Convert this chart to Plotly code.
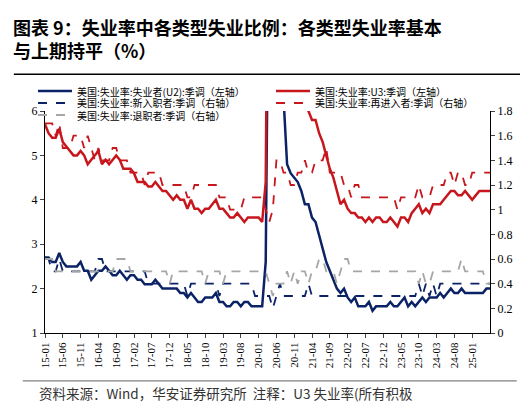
import plotly.graph_objects as go

# monthly, 2015-01 .. 2025-06
months = ["{:02d}-{:02d}".format(y, m) for y in range(15, 26) for m in range(1, 13)][:126]

u3 = [5.7, 5.5, 5.4, 5.4, 5.6, 5.3, 5.2, 5.1, 5.0, 5.0, 5.1, 5.0,
      4.8, 4.9, 5.0, 5.1, 4.8, 4.9, 4.8, 4.9, 5.0, 4.9, 4.7, 4.7,
      4.7, 4.6, 4.4, 4.4, 4.4, 4.3, 4.3, 4.4, 4.3, 4.2, 4.2, 4.1,
      4.0, 4.1, 4.0, 4.0, 3.8, 4.0, 3.8, 3.8, 3.7, 3.8, 3.8, 3.9,
      4.0, 3.8, 3.8, 3.7, 3.6, 3.6, 3.7, 3.6, 3.5, 3.6, 3.6, 3.6,
      3.6, 3.5, 4.4, 14.7, 13.2, 11.0, 10.2, 8.4, 7.9, 6.9, 6.7, 6.7,
      6.4, 6.2, 6.0, 5.8, 5.8, 5.5, 5.3, 5.0, 4.7, 4.5, 4.2, 3.9,
      4.0, 3.8, 3.7, 3.7, 3.6, 3.6, 3.5, 3.6, 3.5, 3.6, 3.6, 3.5,
      3.5, 3.6, 3.5, 3.4, 3.6, 3.6, 3.5, 3.7, 3.8, 3.9, 3.7, 3.8,
      3.7, 3.9, 3.9, 3.9, 4.0, 4.1, 4.2, 4.2, 4.1, 4.1, 4.2, 4.1,
      4.0, 4.1, 4.2, 4.2, 4.2, 4.2]
u2 = [2.7, 2.7, 2.6, 2.6, 2.8, 2.6, 2.5, 2.5, 2.5, 2.5, 2.6, 2.4,
      2.4, 2.2, 2.3, 2.4, 2.4, 2.5, 2.4, 2.3, 2.3, 2.4, 2.3, 2.2,
      2.3, 2.3, 2.2, 2.2, 2.1, 2.1, 2.1, 2.2, 2.1, 2.0, 2.0, 2.0,
      2.0, 2.0, 1.9, 1.9, 1.8, 1.9, 1.8, 1.7, 1.7, 1.8, 1.8, 1.8,
      1.9, 1.7, 1.7, 1.6, 1.6, 1.7, 1.7, 1.6, 1.7, 1.7, 1.6, 1.6,
      1.6, 1.6, 2.6, 11.5, 10.1, 8.6, 7.9, 6.3, 4.8, 4.6, 4.5, 4.4,
      4.2, 3.9, 3.9, 3.6, 3.5, 3.2, 2.9, 2.6, 2.4, 2.2, 2.0, 1.9,
      2.0, 1.8, 1.7, 1.8, 1.6, 1.6, 1.6, 1.7, 1.5, 1.6, 1.6, 1.6,
      1.6, 1.7, 1.6, 1.6, 1.7, 1.8, 1.6, 1.7, 1.6, 1.7, 1.8, 1.7,
      1.8, 1.8, 1.8, 1.9, 1.8, 1.9, 2.0, 1.9, 1.9, 2.0, 1.9, 1.9,
      1.9, 1.9, 1.9, 1.9, 2.0, 2.0]
new_entrants = [0.6, 0.6, 0.5, 0.5, 0.6, 0.5, 0.5, 0.5, 0.5, 0.5, 0.5, 0.5,
                0.5, 0.5, 0.5, 0.6, 0.6, 0.5, 0.5, 0.5, 0.5, 0.5, 0.5, 0.5,
                0.5, 0.5, 0.5, 0.5, 0.5, 0.4, 0.4, 0.4, 0.4, 0.4, 0.4, 0.4,
                0.4, 0.4, 0.4, 0.4, 0.3, 0.4, 0.4, 0.4, 0.4, 0.4, 0.4, 0.4,
                0.4, 0.3, 0.4, 0.4, 0.4, 0.4, 0.4, 0.4, 0.4, 0.4, 0.4, 0.3,
                0.3, 0.3, 0.3, 0.3, 0.2, 0.3, 0.4, 0.3, 0.3, 0.3, 0.3, 0.3,
                0.3, 0.3, 0.4, 0.3, 0.3, 0.3, 0.3, 0.3, 0.3, 0.3, 0.3, 0.3,
                0.3, 0.3, 0.3, 0.3, 0.3, 0.3, 0.3, 0.3, 0.3, 0.3, 0.3, 0.3,
                0.3, 0.3, 0.3, 0.3, 0.3, 0.3, 0.3, 0.3, 0.3, 0.4, 0.3, 0.4,
                0.3, 0.4, 0.3, 0.4, 0.4, 0.4, 0.4, 0.4, 0.4, 0.4, 0.4, 0.4,
                0.4, 0.4, 0.4, 0.4, 0.4, 0.4]
reentrants = [1.7, 1.7, 1.7, 1.6, 1.7, 1.5, 1.5, 1.5, 1.6, 1.6, 1.6, 1.5,
              1.6, 1.5, 1.4, 1.5, 1.4, 1.4, 1.4, 1.5, 1.5, 1.4, 1.4, 1.4,
              1.3, 1.3, 1.3, 1.3, 1.2, 1.3, 1.3, 1.3, 1.3, 1.2, 1.2, 1.2,
              1.2, 1.2, 1.2, 1.2, 1.1, 1.1, 1.2, 1.2, 1.2, 1.2, 1.2, 1.2,
              1.2, 1.1, 1.1, 1.1, 1.0, 1.0, 1.0, 1.0, 1.1, 1.1, 1.1, 1.1,
              1.1, 1.1, 1.0, 0.9, 1.0, 1.4, 1.4, 1.3, 1.3, 1.2, 1.2, 1.3,
              1.3, 1.4, 1.3, 1.3, 1.4, 1.4, 1.4, 1.5, 1.3, 1.3, 1.3, 1.3,
              1.2, 1.2, 1.1, 1.2, 1.2, 1.1, 1.1, 1.1, 1.1, 1.1, 1.1, 1.1,
              1.1, 1.1, 1.1, 1.0, 1.1, 1.1, 1.1, 1.1, 1.1, 1.2, 1.1, 1.1,
              1.1, 1.2, 1.2, 1.2, 1.2, 1.3, 1.3, 1.2, 1.3, 1.3, 1.2, 1.2,
              1.3, 1.3, 1.3, 1.3, 1.3, 1.3]
leavers = [0.6, 0.6, 0.6, 0.5, 0.5, 0.5, 0.5, 0.5, 0.5, 0.5, 0.5, 0.5,
           0.5, 0.5, 0.5, 0.5, 0.5, 0.5, 0.5, 0.5, 0.6, 0.6, 0.6, 0.6,
           0.5, 0.5, 0.5, 0.5, 0.5, 0.5, 0.5, 0.5, 0.5, 0.5, 0.5, 0.4,
           0.5, 0.5, 0.5, 0.5, 0.5, 0.5, 0.5, 0.5, 0.5, 0.4, 0.5, 0.5,
           0.5, 0.5, 0.4, 0.5, 0.5, 0.5, 0.5, 0.5, 0.5, 0.5, 0.5, 0.5,
           0.5, 0.5, 0.5, 0.4, 0.3, 0.4, 0.4, 0.4, 0.5, 0.4, 0.5, 0.4,
           0.5, 0.5, 0.4, 0.5, 0.5, 0.6, 0.6, 0.5, 0.5, 0.5, 0.4, 0.5,
           0.6, 0.6, 0.5, 0.5, 0.5, 0.5, 0.5, 0.5, 0.5, 0.5, 0.5, 0.5,
           0.5, 0.5, 0.5, 0.5, 0.5, 0.5, 0.5, 0.5, 0.5, 0.4, 0.5, 0.4,
           0.4, 0.5, 0.5, 0.5, 0.5, 0.5, 0.5, 0.5, 0.5, 0.6, 0.5, 0.5,
           0.5, 0.5, 0.5, 0.5, 0.4, 0.4]

tick_idx = list(range(0, 121, 5))
tick_text = [months[i] for i in tick_idx]

navy = "#0b2366"
red = "#c8161d"
gray = "#a6a6a6"
x = list(range(len(months)))

series = [
    ("美国:失业率:失业者(U2):季调（左轴）", u2, "y", navy, 2.5, "solid"),
    ("美国:失业率:U3:季调（左轴）", u3, "y", red, 2.5, "solid"),
    ("美国:失业率:新入职者:季调（右轴）", new_entrants, "y2", navy, 1.8, "dash"),
    ("美国:失业率:再进入者:季调（右轴）", reentrants, "y2", red, 1.8, "dash"),
    ("美国:失业率:退职者:季调（右轴）", leavers, "y2", gray, 1.8, "dash"),
]

fig = go.Figure()
for name, vals, ax, color, w, dash in series:
    fig.add_trace(go.Scatter(x=x, y=vals, name=name, yaxis=ax, showlegend=False,
                             line=dict(color=color, width=w, dash=dash)))

# hand-built legend: 2 columns, 3 rows (pixel positions relative to plot area)
plot_l, plot_t, plot_w, plot_h = 37, 103, 445, 222
legend_pos = [(30, 83), (268, 83), (30, 95), (268, 95), (30, 107)]
shapes = []
annotations = []
for (name, vals, ax, color, w, dash), (lx, ly) in zip(series, legend_pos):
    px0 = (lx - plot_l) / plot_w
    px1 = (lx + 34 - plot_l) / plot_w
    py = (plot_t + plot_h - ly) / plot_h
    shapes.append(dict(type="line", xref="paper", yref="paper", x0=px0, x1=px1, y0=py, y1=py,
                       line=dict(color=color, width=w, dash=dash)))
    annotations.append(dict(text=name, x=(lx + 37 - plot_l) / plot_w, y=py, xref="paper", yref="paper",
                            xanchor="left", yanchor="middle", showarrow=False,
                            font=dict(size=10, color="black", family="Noto Sans CJK SC")))

annotations += [
    dict(text="<b>图表 9：失业率中各类型失业比例：各类型失业率基本</b><br><b>与上期持平（%）</b>",
         x=0, y=1, xref="paper", yref="paper", xanchor="left", yanchor="top",
         xshift=-34, yshift=99, showarrow=False, align="left",
         font=dict(size=18, color="black", family="Noto Sans CJK SC")),
    dict(text="资料来源：Wind，华安证券研究所  注释：U3 失业率(所有积极",
         x=0, y=0, xref="paper", yref="paper", xanchor="left", yanchor="middle",
         xshift=-8, yshift=-60, showarrow=False,
         font=dict(size=13.5, color="#333333", family="Noto Sans CJK SC")),
]
shapes += [
    dict(type="line", xref="paper", yref="paper", x0=-0.07, x1=1.08, y0=1.165, y1=1.165,
         line=dict(color="black", width=1.5)),
    dict(type="line", xref="paper", yref="paper", x0=-0.05, x1=1.06, y0=-0.216, y1=-0.216,
         line=dict(color="#808080", width=1.2)),
]

tickfont = dict(family="Liberation Serif", size=12, color="black")
fig.update_layout(
    width=528, height=408,
    margin=dict(l=plot_l, r=528 - plot_l - plot_w, t=plot_t, b=408 - plot_t - plot_h),
    paper_bgcolor="white", plot_bgcolor="white",
    font=dict(family="Noto Sans CJK SC", color="black"),
    showlegend=False,
    xaxis=dict(range=[0, 125], tickvals=tick_idx, ticktext=tick_text, tickangle=-90,
               tickfont=dict(family="Liberation Serif", size=11, color="black"),
               showline=True, linecolor="black", linewidth=1.2, ticks="outside", ticklen=4,
               showgrid=False, zeroline=False, automargin=False),
    yaxis=dict(range=[1, 6], dtick=1, tickfont=tickfont, showline=True, linecolor="black",
               linewidth=1.2, ticks="outside", ticklen=4, showgrid=False, zeroline=False,
               automargin=False),
    yaxis2=dict(range=[0, 1.8], dtick=0.2, overlaying="y", side="right", tickfont=tickfont,
                showline=True, linecolor="black", linewidth=1.2, ticks="outside", ticklen=4,
                showgrid=False, zeroline=False, tickformat="~g", automargin=False),
    annotations=annotations,
    shapes=shapes,
)

fig.write_html("out.html")
